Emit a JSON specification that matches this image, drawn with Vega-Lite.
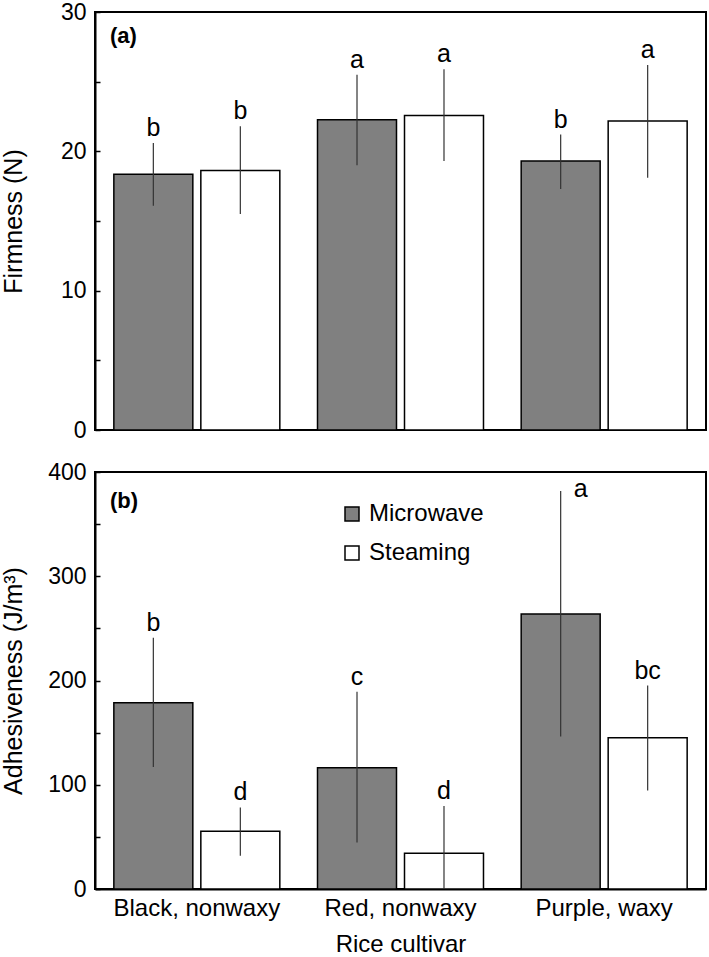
{
  "$schema": "https://vega.github.io/schema/vega-lite/v6.json",
  "padding": {"left": 0, "top": 0, "right": 2, "bottom": 0},
  "background": "white",
  "config": {
    "font": "Liberation Sans",
    "view": {"stroke": "black", "strokeWidth": 2},
    "axis": {"grid": false, "domainColor": "black", "domainWidth": 2, "tickColor": "black", "labelColor": "black", "titleColor": "black", "titleFontWeight": "normal", "labelFont": "Liberation Sans", "titleFont": "Liberation Sans"}
  },
  "bounds": "flush",
  "spacing": 42,
  "datasets": {
    "firm": [
      {"cultivar": "Black, nonwaxy", "method": "Microwave", "mean": 18.35, "lo": 16.1, "hi": 20.6, "letter": "b"},
      {"cultivar": "Black, nonwaxy", "method": "Steaming", "mean": 18.63, "lo": 15.5, "hi": 21.8, "letter": "b"},
      {"cultivar": "Red, nonwaxy", "method": "Microwave", "mean": 22.26, "lo": 19.0, "hi": 25.5, "letter": "a"},
      {"cultivar": "Red, nonwaxy", "method": "Steaming", "mean": 22.57, "lo": 19.3, "hi": 25.9, "letter": "a"},
      {"cultivar": "Purple, waxy", "method": "Microwave", "mean": 19.3, "lo": 17.3, "hi": 21.2, "letter": "b"},
      {"cultivar": "Purple, waxy", "method": "Steaming", "mean": 22.17, "lo": 18.1, "hi": 26.2, "letter": "a"}
    ],
    "adh": [
      {"cultivar": "Black, nonwaxy", "method": "Microwave", "mean": 178.7, "lo": 117.0, "hi": 240.9, "letter": "b"},
      {"cultivar": "Black, nonwaxy", "method": "Steaming", "mean": 55.5, "lo": 31.9, "hi": 78.2, "letter": "d"},
      {"cultivar": "Red, nonwaxy", "method": "Microwave", "mean": 116.4, "lo": 44.7, "hi": 189.2, "letter": "c"},
      {"cultivar": "Red, nonwaxy", "method": "Steaming", "mean": 34.4, "lo": 0, "hi": 79.7, "letter": "d"},
      {"cultivar": "Purple, waxy", "method": "Microwave", "mean": 263.8, "lo": 146.4, "hi": 381.8, "letter": "a"},
      {"cultivar": "Purple, waxy", "method": "Steaming", "mean": 145.1, "lo": 94.4, "hi": 195.2, "letter": "bc"}
    ]
  },
  "resolve": {"scale": {"y": "independent", "fill": "independent"}, "legend": {"fill": "independent"}},
  "vconcat": [
    {
      "width": 611,
      "height": 418,
      "layer": [
        {
          "data": {"name": "firm"},
          "mark": {"type": "bar", "stroke": "black", "strokeWidth": 1.5},
          "encoding": {
            "x": {"field": "cultivar", "type": "nominal", "sort": ["Black, nonwaxy", "Red, nonwaxy", "Purple, waxy"], "scale": {"paddingInner": 0, "paddingOuter": 0}, "axis": null},
            "xOffset": {"field": "method", "type": "nominal", "sort": ["Microwave", "Steaming"], "scale": {"paddingInner": 0.092, "paddingOuter": 0.2166}},
            "y": {"field": "mean", "type": "quantitative", "title": "Firmness (N)", "scale": {"domain": [0, 30], "nice": false},
              "axis": {"values": [0, 5, 10, 15, 20, 25, 30], "labelExpr": "datum.value % 10 === 0 ? datum.label : ''", "tickSize": -5, "tickWidth": 1.5, "labelPadding": 14, "labelFontSize": 23, "titleFontSize": 25, "titlePadding": 34}},
            "fill": {"field": "method", "type": "nominal", "scale": {"domain": ["Microwave", "Steaming"], "range": ["#808080", "#ffffff"]}, "legend": null}
          }
        },
        {
          "data": {"name": "firm"},
          "mark": {"type": "rule", "color": "#333333", "strokeWidth": 1.2},
          "encoding": {
            "x": {"field": "cultivar", "type": "nominal", "sort": ["Black, nonwaxy", "Red, nonwaxy", "Purple, waxy"]},
            "xOffset": {"field": "method", "type": "nominal", "sort": ["Microwave", "Steaming"]},
            "y": {"field": "lo", "type": "quantitative", "title": "Firmness (N)"},
            "y2": {"field": "hi"}
          }
        },
        {
          "data": {"name": "firm"},
          "mark": {"type": "text", "fontSize": 25, "baseline": "alphabetic", "dy": -7, "color": "black"},
          "encoding": {
            "x": {"field": "cultivar", "type": "nominal", "sort": ["Black, nonwaxy", "Red, nonwaxy", "Purple, waxy"]},
            "xOffset": {"field": "method", "type": "nominal", "sort": ["Microwave", "Steaming"]},
            "y": {"field": "hi", "type": "quantitative", "title": "Firmness (N)"},
            "text": {"field": "letter"}
          }
        },
        {
          "data": {"values": [{"label": "(a)"}]},
          "mark": {"type": "text", "fontSize": 22, "fontWeight": "bold", "align": "left", "baseline": "middle", "dx": 15, "color": "black"},
          "encoding": {
            "x": {"datum": "Black, nonwaxy", "type": "nominal", "bandPosition": 0},
            "y": {"datum": 28.3, "type": "quantitative"},
            "text": {"field": "label"}
          }
        }
      ]
    },
    {
      "width": 611,
      "height": 417,
      "layer": [
        {
          "data": {"name": "adh"},
          "mark": {"type": "bar", "stroke": "black", "strokeWidth": 1.5},
          "encoding": {
            "x": {"field": "cultivar", "type": "nominal", "sort": ["Black, nonwaxy", "Red, nonwaxy", "Purple, waxy"], "scale": {"paddingInner": 0, "paddingOuter": 0},
              "title": "Rice cultivar", "axis": {"labelAngle": 0, "tickSize": 0, "labelPadding": 7, "labelFontSize": 24, "titleFontSize": 24, "titlePadding": 12}},
            "xOffset": {"field": "method", "type": "nominal", "sort": ["Microwave", "Steaming"], "scale": {"paddingInner": 0.092, "paddingOuter": 0.2166}},
            "y": {"field": "mean", "type": "quantitative", "title": "Adhesiveness (J/m³)", "scale": {"domain": [0, 400], "nice": false},
              "axis": {"values": [0, 50, 100, 150, 200, 250, 300, 350, 400], "labelExpr": "datum.value % 100 === 0 ? datum.label : ''", "tickSize": -5, "tickWidth": 1.5, "labelPadding": 14, "labelFontSize": 23, "titleFontSize": 25, "titlePadding": 21}},
            "fill": {"field": "method", "type": "nominal", "scale": {"domain": ["Microwave", "Steaming"], "range": ["#808080", "#ffffff"]},
              "legend": {"title": null, "orient": "none", "legendX": 245, "legendY": 30, "symbolType": "square", "symbolSize": 196, "symbolStrokeColor": "black", "symbolStrokeWidth": 1.5, "labelFontSize": 24, "labelFont": "Liberation Sans", "labelColor": "black", "labelOffset": 5, "rowPadding": 15, "padding": 0}}
          }
        },
        {
          "data": {"name": "adh"},
          "mark": {"type": "rule", "color": "#333333", "strokeWidth": 1.2},
          "encoding": {
            "x": {"field": "cultivar", "type": "nominal", "sort": ["Black, nonwaxy", "Red, nonwaxy", "Purple, waxy"]},
            "xOffset": {"field": "method", "type": "nominal", "sort": ["Microwave", "Steaming"]},
            "y": {"field": "lo", "type": "quantitative", "title": "Adhesiveness (J/m³)"},
            "y2": {"field": "hi"}
          }
        },
        {
          "data": {"name": "adh"},
          "transform": [{"filter": "datum.hi < 350"}],
          "mark": {"type": "text", "fontSize": 25, "baseline": "alphabetic", "dy": -7, "color": "black"},
          "encoding": {
            "x": {"field": "cultivar", "type": "nominal", "sort": ["Black, nonwaxy", "Red, nonwaxy", "Purple, waxy"]},
            "xOffset": {"field": "method", "type": "nominal", "sort": ["Microwave", "Steaming"]},
            "y": {"field": "hi", "type": "quantitative", "title": "Adhesiveness (J/m³)"},
            "text": {"field": "letter"}
          }
        },
        {
          "data": {"name": "adh"},
          "transform": [{"filter": "datum.hi >= 350"}],
          "mark": {"type": "text", "fontSize": 25, "baseline": "middle", "align": "left", "dx": 13, "dy": -2, "color": "black"},
          "encoding": {
            "x": {"field": "cultivar", "type": "nominal", "sort": ["Black, nonwaxy", "Red, nonwaxy", "Purple, waxy"]},
            "xOffset": {"field": "method", "type": "nominal", "sort": ["Microwave", "Steaming"]},
            "y": {"field": "hi", "type": "quantitative", "title": "Adhesiveness (J/m³)"},
            "text": {"field": "letter"}
          }
        },
        {
          "data": {"values": [{"label": "(b)"}]},
          "mark": {"type": "text", "fontSize": 22, "fontWeight": "bold", "align": "left", "baseline": "middle", "dx": 15, "color": "black"},
          "encoding": {
            "x": {"datum": "Black, nonwaxy", "type": "nominal", "bandPosition": 0},
            "y": {"datum": 372, "type": "quantitative"},
            "text": {"field": "label"}
          }
        }
      ]
    }
  ]
}
